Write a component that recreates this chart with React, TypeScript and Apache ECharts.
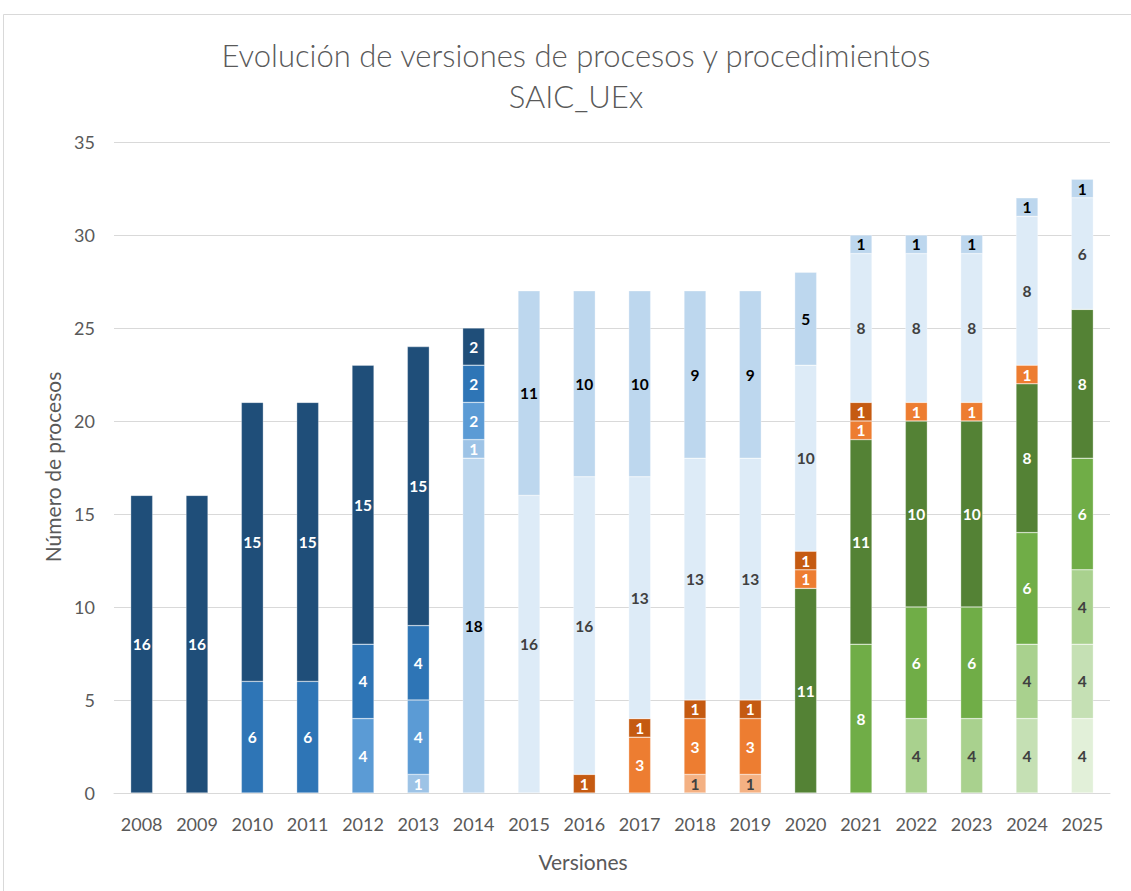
import React, { useEffect, useRef } from "react";
import * as echarts from "echarts";

const years = ["2008","2009","2010","2011","2012","2013","2014","2015","2016","2017","2018","2019","2020","2021","2022","2023","2024","2025"];

// stacked bottom-to-top, one array per version shade (null = absent)
const greenLightest = [null,null,null,null,null,null,null,null,null,null,null,null,null,null,null,null,null,4];
const greenLighter  = [null,null,null,null,null,null,null,null,null,null,null,null,null,null,null,null,4,4];
const greenLight    = [null,null,null,null,null,null,null,null,null,null,null,null,null,null,4,4,4,4];
const greenMid      = [null,null,null,null,null,null,null,null,null,null,null,null,null,8,6,6,6,6];
const greenDark     = [null,null,null,null,null,null,null,null,null,null,null,null,11,11,10,10,8,8];
const orangeLight   = [null,null,null,null,null,null,null,null,null,null,1,1,null,null,null,null,null,null];
const orangeMid     = [null,null,null,null,null,null,null,null,null,3,3,3,1,1,1,1,1,null];
const orangeDark    = [null,null,null,null,null,null,null,null,1,1,1,1,1,1,null,null,null,null];
const blueVeryLight = [null,null,null,null,null,null,null,16,16,13,13,13,10,8,8,8,8,6];
const blueLight     = [null,null,null,null,null,null,18,11,10,10,9,9,5,1,1,1,1,1];
const bluePale      = [null,null,null,null,null,1,1,null,null,null,null,null,null,null,null,null,null,null];
const blueLighter   = [null,null,null,null,4,4,2,null,null,null,null,null,null,null,null,null,null,null];
const blueMid       = [null,null,6,6,4,4,2,null,null,null,null,null,null,null,null,null,null,null];
const blueDark      = [16,16,15,15,15,15,2,null,null,null,null,null,null,null,null,null,null,null];

const yTicks = { min: 0, max: 35, interval: 5 };

const stackDefs: [string, (number | null)[], string, string][] = [
  ["v1", greenLightest, "#E2F0D9", "#404040"],
  ["v2", greenLighter, "#C5E0B4", "#404040"],
  ["v3", greenLight, "#A9D18E", "#404040"],
  ["v4", greenMid, "#70AD47", "#FFFFFF"],
  ["v5", greenDark, "#548235", "#FFFFFF"],
  ["v6", orangeLight, "#F4B183", "#404040"],
  ["v7", orangeMid, "#ED7D31", "#FFFFFF"],
  ["v8", orangeDark, "#C55A11", "#FFFFFF"],
  ["v9", blueVeryLight, "#DDEBF7", "#404040"],
  ["v10", blueLight, "#BDD7EE", "#000000"],
  ["v11", bluePale, "#9DC3E6", "#FFFFFF"],
  ["v12", blueLighter, "#5B9BD5", "#FFFFFF"],
  ["v13", blueMid, "#2E75B6", "#FFFFFF"],
  ["v14", blueDark, "#1F4E79", "#FFFFFF"],
];

const FONT = "Lato, 'Open Sans', sans-serif";

export default function App() {
  const ref = useRef<HTMLDivElement>(null);
  useEffect(() => {
    if (!ref.current) return;
    const chart = echarts.init(ref.current, undefined, { renderer: "svg" });
    chart.setOption({
      animation: false,
      backgroundColor: "#FFFFFF",
      textStyle: { fontFamily: FONT },
      grid: { left: 114, right: 21, top: 142, bottom: 98 },
      graphic: [
        {
          type: "rect",
          shape: { x: 3.5, y: 14.5, width: 1140, height: 900 },
          style: { fill: "none", stroke: "#D9D9D9", lineWidth: 1 },
          silent: true,
        },
        {
          type: "text",
          x: 576,
          y: 55,
          style: {
            text: "Evolución de versiones de procesos y procedimientos",
            font: `300 31px ${FONT}`,
            fill: "#595959",
            textAlign: "center",
            textVerticalAlign: "middle",
          },
        },
        {
          type: "text",
          x: 576,
          y: 96,
          style: {
            text: "SAIC_UEx",
            font: `300 31px ${FONT}`,
            fill: "#595959",
            textAlign: "center",
            textVerticalAlign: "middle",
          },
        },
        {
          type: "text",
          x: 52,
          y: 467,
          rotation: Math.PI / 2,
          style: {
            text: "Número de procesos",
            font: `21px ${FONT}`,
            fill: "#595959",
            textAlign: "center",
            textVerticalAlign: "middle",
          },
        },
        {
          type: "text",
          x: 583,
          y: 861,
          style: {
            text: "Versiones",
            font: `21px ${FONT}`,
            fill: "#595959",
            textAlign: "center",
            textVerticalAlign: "middle",
          },
        },
      ],
      xAxis: {
        type: "category",
        data: years,
        axisLine: { lineStyle: { color: "#D9D9D9", width: 1 } },
        axisTick: { show: false },
        axisLabel: { color: "#595959", fontSize: 18, fontFamily: FONT, margin: 22, interval: 0, hideOverlap: false },
      },
      yAxis: {
        type: "value",
        min: yTicks.min,
        max: yTicks.max,
        interval: yTicks.interval,
        axisLine: { show: false },
        axisTick: { show: false },
        splitLine: { lineStyle: { color: "#D9D9D9", width: 1 } },
        axisLabel: { color: "#595959", fontSize: 18, fontFamily: FONT, margin: 19 },
      },
      series: stackDefs.map(([name, values, color, labelColor]) => ({
        name,
        type: "bar",
        stack: "total",
        barWidth: 22,
        data: values,
        itemStyle: { color, borderColor: "rgba(255,255,255,0.6)", borderWidth: 0.5 },
        label: {
          show: true,
          position: "inside",
          color: labelColor,
          fontSize: 15.5,
          lineHeight: 15,
          fontWeight: "bold",
          fontFamily: FONT,
          formatter: (p: any) => (p.value ? String(p.value) : ""),
        },
      })),
    });
    return () => chart.dispose();
  }, []);
  return (
    <div
      ref={ref}
      style={{ position: "fixed", left: 0, top: 0, width: 1131, height: 891 }}
    />
  );
}
